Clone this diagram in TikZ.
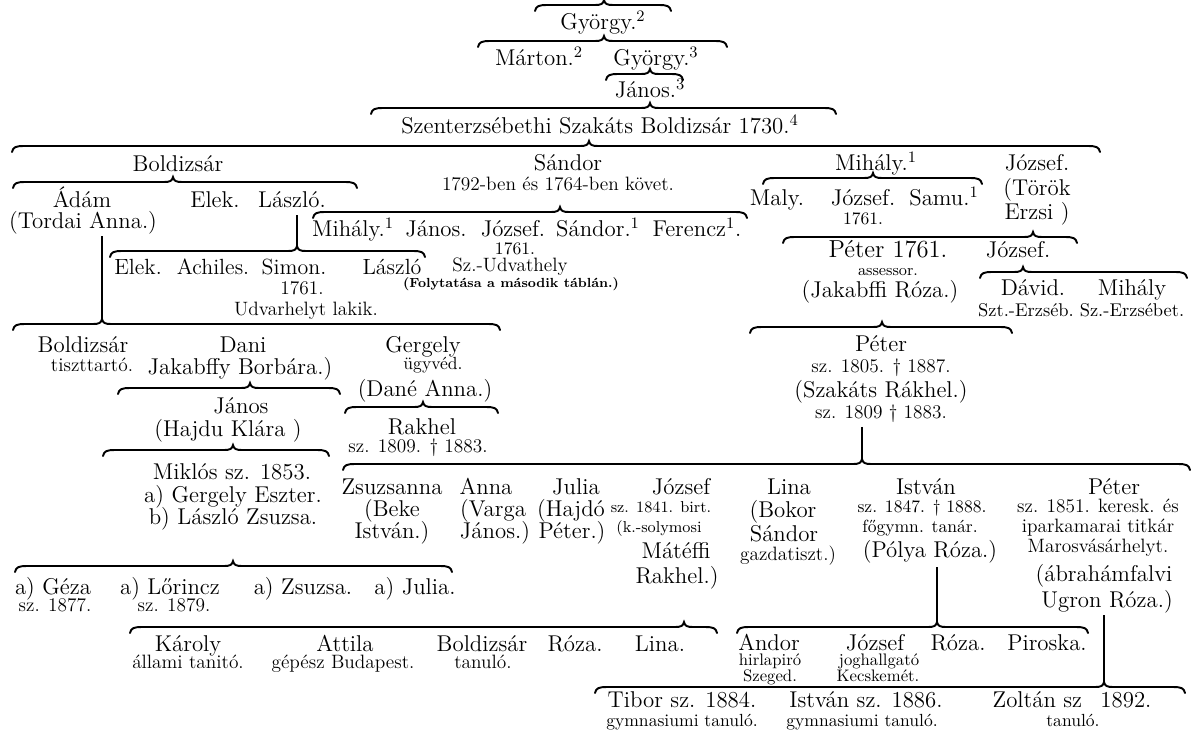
\documentclass[tikz,border=0pt]{standalone}
\usepackage{fontspec}
\usetikzlibrary{calc}

\tikzstyle{nev} = [font=\fontsize{13}{15}\selectfont, inner sep=0pt, text height=9pt, text depth=1pt]
\tikzstyle{adat} = [font=\fontsize{11}{13}\selectfont, inner sep=0pt, text height=7.5pt, text depth=1pt]
\tikzstyle{kis} = [font=\fontsize{10}{12}\selectfont, inner sep=0pt, text height=7pt, text depth=1pt]
\tikzstyle{apro} = [font=\fontsize{7.5}{9}\selectfont\bfseries, inner sep=0pt, text height=5.5pt, text depth=1pt]
\tikzstyle{kapocs} = [line width=1.1pt, line cap=round]
\tikzstyle{vonal} = [line width=1.6pt]

% brace: name, left, cusp, right, y
\newcommand{\csalad}[5]{%
  \draw[kapocs] (#2,#5+6) .. controls (#2+1,#5+1) and (#2+4,#5) .. (#2+12,#5)
    -- (#3-9,#5) .. controls (#3-3,#5) and (#3-1,#5-1) .. (#3,#5-5)
    .. controls (#3+1,#5-1) and (#3+3,#5) .. (#3+9,#5)
    -- (#4-12,#5) .. controls (#4-4,#5) and (#4-1,#5+1) .. (#4,#5+6);
  \coordinate (#1) at (#3,#5-5);}

\begin{document}
\begin{tikzpicture}[x=0.02cm, y=-0.02cm]
\useasboundingbox (0,0) rectangle (1193,731);

\csalad{b0}{535}{604}{671}{5}
\node [nev] (gyorgy2) at (603,22) {György.\textsuperscript{2}};
\csalad{b1}{478}{604}{727}{41}
\node [nev] (marton) at (539,58) {Márton.\textsuperscript{2}};
\node [nev] (gyorgy3) at (656,58) {György.\textsuperscript{3}};
\csalad{b2}{606}{650}{683}{74}
\node [nev] (janos3) at (650,90) {János.\textsuperscript{3}};
\csalad{b3}{371}{650}{836}{108}
\node [nev] (boldizsar1) at (600,126) {Szenterzsébethi Szakáts Boldizsár 1730.\textsuperscript{4}};
\csalad{b4}{12}{589}{1100}{146}

\node [nev] (boldizsar2) at (178,164) {Boldizsár};
\node [nev] (sandor1) at (568,163) {Sándor};
\node [adat] (kovet) at (558,185) {1792-ben és 1764-ben követ.};
\node [nev] (mihaly1) at (876,163) {Mihály.\textsuperscript{1}};
\node [nev] (jozsef1) at (1037,163) {József.};
\node [nev] (torok) at (1037,188) {(Török};
\node [nev] (erzsi) at (1037,212) {Erzsi )};

\csalad{bBold}{13}{173}{357}{182}
\node [nev] (adam) at (82,200) {Ádám};
\node [nev] (tordai) at (83,221) {(Tordai Anna.)};
\node [nev] (elek1) at (215,200) {Elek.};
\node [nev] (laszlo1) at (292,200) {László.};

\csalad{bSandor}{313}{560}{747}{212}
\node [nev] (mihaly2) at (353,229) {Mihály.\textsuperscript{1}};
\node [nev] (janos2) at (436,229) {János.};
\node [nev] (jozsef2) at (513,229) {József.};
\node [kis] (ev1) at (515,249) {1761.};
\node [adat] (udvathely) at (510,266) {Sz.-Udvathely};
\node [apro] (folyt) at (511,284) {(Folytatása a második táblán.)};
\node [nev] (sandor2) at (598,229) {Sándor.\textsuperscript{1}};
\node [nev] (ferencz) at (697,229) {Ferencz\textsuperscript{1}.};

\csalad{bMihaly}{763}{873}{982}{178}
\node [nev] (maly) at (777,198) {Maly.};
\node [nev] (jozsef3) at (863,198) {József.};
\node [kis] (ev2) at (863,219) {1761.};
\node [nev] (samu) at (944,198) {Samu.\textsuperscript{1}};

\csalad{bJozsef}{783}{1033}{1077}{237}
\node [nev, font=\fontsize{14}{16}\selectfont] (peter1) at (888,250) {Péter 1761.};
\node [kis, font=\fontsize{9}{11}\selectfont] (assessor) at (888,270) {assessor.};
\node [nev] (jakabffi) at (880,290) {(Jakabffi Róza.)};
\node [nev] (jozsef4) at (1018,250) {József.};

\csalad{bJozsef2}{980}{1023}{1187}{272}
\node [nev] (david) at (1033,288) {Dávid.};
\node [nev] (mihaly3) at (1132,288) {Mihály};
\node [adat, font=\fontsize{10.5}{12}\selectfont] (erzseb1) at (1026,311) {Szt.-Erzséb.};
\node [adat, font=\fontsize{10.5}{12}\selectfont] (erzseb2) at (1132,311) {Sz.-Erzsébet.};

\csalad{bLaszlo}{110}{297}{425}{251}
\node [nev, font=\fontsize{12.5}{14}\selectfont] (elek2) at (138,267) {Elek.};
\node [nev, font=\fontsize{12.5}{14}\selectfont] (achiles) at (213,267) {Achiles.};
\node [nev, font=\fontsize{12.5}{14}\selectfont] (simon) at (294,267) {Simon.};
\node [nev, font=\fontsize{12.5}{14}\selectfont] (laszlo2) at (392,267) {László};
\node [adat] (ev3) at (302,289) {1761.};
\node [adat] (udvarhely) at (306,310) {Udvarhelyt lakik.};

\csalad{bAdam}{13}{102}{500}{324}
\node [nev] (boldizsar3) at (83,345) {Boldizsár};
\node [adat] (tiszttarto) at (92,366) {tiszttartó.};
\node [nev] (dani) at (243,345) {Dani};
\node [nev] (jakabffy) at (240,367) {Jakabffy Borbára.)};
\node [nev] (gergely) at (423,345) {Gergely};
\node [kis] (ugyved) at (433,364) {ügyvéd.};
\node [nev] (dane) at (425,389) {(Dané Anna.)};

\csalad{bDani}{118}{250}{340}{388}
\node [nev] (janos4) at (241,406) {János};
\node [nev] (hajdu) at (228,429) {(Hajdu Klára )};

\csalad{bGergely}{345}{423}{498}{407}
\node [nev] (rakhel1) at (422,427) {Rakhel};
\node [adat] (rakhel1b) at (418,447) {sz. 1809. † 1883.};

\csalad{bPeter1}{750}{882}{1012}{327}
\node [nev] (peter2) at (881,344) {Péter};
\node [adat] (peter2b) at (881,367) {sz. 1805. † 1887.};
\node [nev] (szakats) at (881,390) {(Szakáts Rákhel.)};
\node [adat] (szakatsb) at (881,413) {sz. 1809 † 1883.};

\csalad{bJanos}{103}{233}{329}{450}
\node [nev] (miklos) at (232,472) {Miklós sz. 1853.};
\node [nev] (gergelyE) at (233,495) {a) Gergely Eszter.};
\node [nev] (laszloZs) at (233,517) {b) László Zsuzsa.};

\csalad{bPeter2}{343}{862}{1190}{464}
\node [nev] (zsuzsanna) at (392,487) {Zsuzsanna};
\node [nev] (beke) at (392,509) {(Beke};
\node [nev] (istvan1) at (392,531) {István.)};
\node [nev] (anna) at (486,487) {Anna};
\node [nev] (varga) at (493,509) {(Varga};
\node [nev] (janos5) at (495,531) {János.)};
\node [nev] (julia) at (576,487) {Julia};
\node [nev] (hajdo) at (571,509) {(Hajdó};
\node [nev] (peter3) at (572,531) {Péter.)};
\node [nev] (jozsef5) at (681,487) {József};
\node [kis, font=\fontsize{9}{11}\selectfont] (jozsef5b) at (661,507) {sz. 1841. birt.};
\node [kis, font=\fontsize{9}{11}\selectfont] (solymosi) at (659,527) {(k.-solymosi};
\node [nev] (mateffi) at (676,551) {Mátéffi};
\node [nev] (rakhel2) at (677,576) {Rakhel.)};
\node [nev] (lina1) at (789,487) {Lina};
\node [nev] (bokor) at (783,510) {(Bokor};
\node [nev] (sandor3) at (784,534) {Sándor};
\node [adat] (gazdatiszt) at (788,555) {gazdatiszt.)};
\node [nev] (istvan2) at (926,487) {István};
\node [kis] (istvan2b) at (922,507) {sz. 1847. † 1888.};
\node [kis] (fogymn) at (920,527) {főgymn. tanár.};
\node [nev] (polya) at (930,550) {(Pólya Róza.)};
\node [nev] (peter4) at (1114,487) {Péter};
\node [adat] (peter4b) at (1098,507) {sz. 1851. keresk. és};
\node [adat] (iparkamara) at (1098,527) {iparkamarai titkár};
\node [adat] (marosvasarhely) at (1098,547) {Marosvásárhelyt.};
\node [nev] (abrahamfalvi) at (1104,574) {(ábrahámfalvi};
\node [nev] (ugron) at (1107,600) {Ugron Róza.)};

\csalad{bMiklos}{15}{233}{452}{566}
\node [nev] (geza) at (53,587) {a) Géza};
\node [adat] (geza2) at (55,606) {sz. 1877.};
\node [nev] (lorincz) at (170,587) {a) Lőrincz};
\node [adat] (lorincz2) at (174,606) {sz. 1879.};
\node [nev] (zsuzsa) at (303,587) {a) Zsuzsa.};
\node [nev] (julia2) at (415,587) {a) Julia.};

\csalad{bJozsef5}{130}{684}{717}{627}
\node [nev] (karoly) at (188,644) {Károly};
\node [adat] (karoly2) at (188,663) {állami tanitó.};
\node [nev] (attila) at (345,644) {Attila};
\node [adat] (attila2) at (343,663) {gépész Budapest.};
\node [nev] (boldizsar4) at (482,644) {Boldizsár};
\node [adat] (boldizsar4b) at (483,663) {tanuló.};
\node [nev] (roza1) at (575,644) {Róza.};
\node [nev] (lina2) at (660,644) {Lina.};

\csalad{bIstvan}{737}{937}{1088}{627}
\node [nev] (andor) at (769,643) {Andor};
\node [kis, font=\fontsize{9.5}{11}\selectfont] (hirlapiro) at (770,660) {hirlapiró};
\node [kis, font=\fontsize{9.5}{11}\selectfont] (szeged) at (770,676) {Szeged.};
\node [nev] (jozsef6) at (875,643) {József};
\node [kis, font=\fontsize{9.5}{11}\selectfont] (joghallgato) at (879,660) {joghallgató};
\node [kis, font=\fontsize{9.5}{11}\selectfont] (kecskemet) at (878,676) {Kecskemét.};
\node [nev] (roza2) at (958,643) {Róza.};
\node [nev] (piroska) at (1047,643) {Piroska.};

\csalad{bPeter3}{595}{1104}{1185}{687}
\node [nev] (tibor) at (682,700) {Tibor sz. 1884.};
\node [kis] (tibor2) at (682,721) {gymnasiumi tanuló.};
\node [nev] (istvan3) at (866,700) {István sz. 1886.};
\node [kis] (istvan3b) at (862,721) {gymnasiumi tanuló.};
\node [nev] (zoltan) at (1072,700) {Zoltán sz\hspace{0.8em}1892.};
\node [kis] (zoltan2) at (1073,721) {tanuló.};

\draw [vonal] ($(bLaszlo |- laszlo1.south)+(0,6)$) -- (bLaszlo);
\draw [vonal] ($(bAdam |- tordai.south)+(0,6)$) -- (bAdam);
\draw [vonal] ($(bPeter2 |- szakatsb.south)+(0,6)$) -- (bPeter2);
\draw [vonal] ($(bIstvan |- polya.south)+(0,8)$) -- (bIstvan);
\draw [vonal] ($(bPeter3 |- ugron.south)+(0,6)$) -- (bPeter3);
\end{tikzpicture}
\end{document}
